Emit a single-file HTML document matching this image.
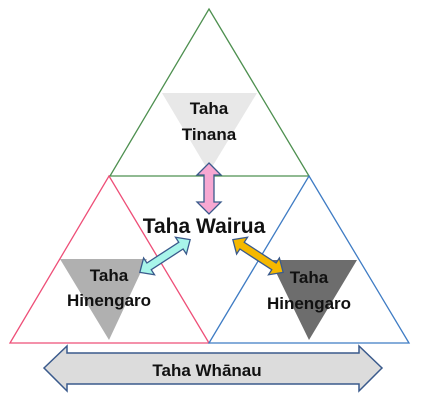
<!DOCTYPE html>
<html><head><meta charset="utf-8"><style>
html,body{margin:0;padding:0;background:#fff;}
svg{display:block}
text{font-family:"Liberation Sans","DejaVu Sans",sans-serif;font-weight:bold;fill:#111;text-anchor:middle}
</style></head><body>
<svg width="424" height="400" viewBox="0 0 424 400" xmlns="http://www.w3.org/2000/svg">
<rect width="424" height="400" fill="#fff"/>
<!-- inner gray triangles -->
<polygon points="162,93 257,93 209,172" fill="#e8e8e8"/>
<polygon points="60,259 147,259 109,340" fill="#b0b0b0"/>
<polygon points="270,260 357,260 309,340" fill="#6d6d6d"/>
<!-- outer triangles -->
<polygon points="209,9 309,176 110,176" fill="none" stroke="#4e9050" stroke-width="1.3"/>
<polygon points="109,176 209,343 10,343" fill="none" stroke="#ee4f78" stroke-width="1.3"/>
<polygon points="309,176 409,343 209,343" fill="none" stroke="#3f7cc4" stroke-width="1.3"/>
<!-- pink vertical arrow -->
<polygon points="209,163 221,175 214,175 214,202 221,202 209,214 197,202 204,202 204,175 197,175" fill="#f7a8d2" stroke="#3a5a8c" stroke-width="1.3"/>
<!-- cyan arrow -->
<g transform="translate(165,256) rotate(-33)">
<polygon points="-30,0 -19,-10 -19,-4 19,-4 19,-10 30,0 19,10 19,4 -19,4 -19,10" fill="#a8f5ea" stroke="#3a5a8c" stroke-width="1.3"/>
</g>
<!-- orange arrow -->
<g transform="translate(258,256) rotate(33)">
<polygon points="-30,0 -19,-10 -19,-4 19,-4 19,-10 30,0 19,10 19,4 -19,4 -19,10" fill="#f5b800" stroke="#3a5a8c" stroke-width="1.3"/>
</g>
<!-- bottom arrow -->
<polygon points="44,368 67,346 67,353 359,353 359,346 382,368 359,391 359,384 67,384 67,391" fill="#dcdcdc" stroke="#3a5a8c" stroke-width="1.5"/>
<!-- labels -->
<text x="209" y="114" font-size="17">Taha</text>
<text x="209" y="140" font-size="17">Tinana</text>
<text x="204" y="233" font-size="21">Taha Wairua</text>
<text x="109" y="281" font-size="17">Taha</text>
<text x="109" y="306" font-size="17">Hinengaro</text>
<text x="309" y="283" font-size="17">Taha</text>
<text x="309" y="309" font-size="17">Hinengaro</text>
<text x="207" y="376" font-size="17">Taha Whānau</text>
</svg>
</body></html>
